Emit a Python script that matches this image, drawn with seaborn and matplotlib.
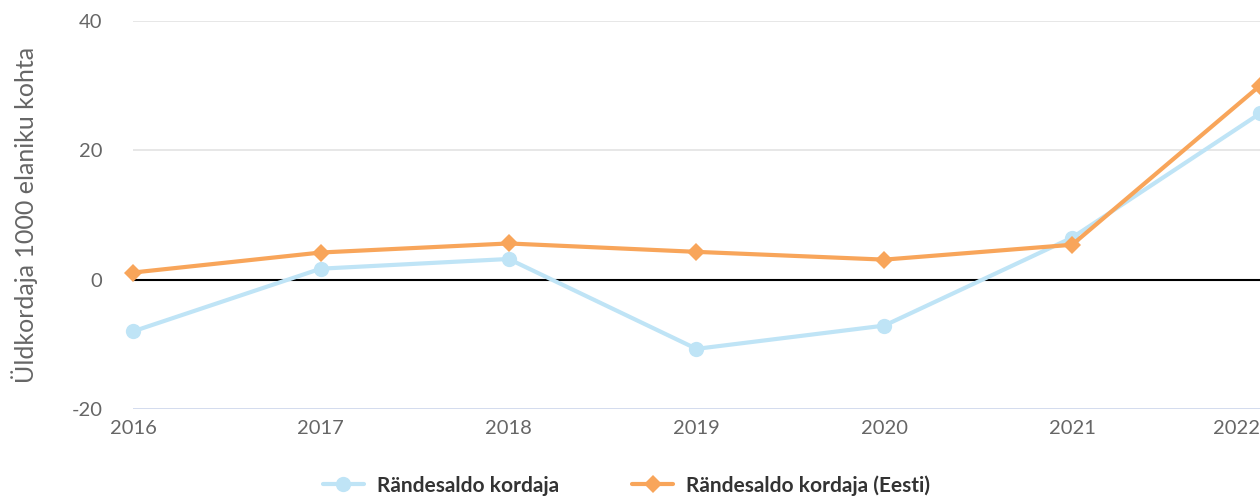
import pandas as pd
import numpy as np
import matplotlib.pyplot as plt
import seaborn as sns

# Andmed
years = [2016, 2017, 2018, 2019, 2020, 2021, 2022]
rande_kordaja = [-8.0, 1.7, 3.2, -10.7, -7.1, 6.5, 25.7]
rande_kordaja_eesti = [1.1, 4.2, 5.6, 4.3, 3.1, 5.4, 30.0]
series_names = ['Rändesaldo kordaja', 'Rändesaldo kordaja (Eesti)']
y_ticks = [-20, 0, 20, 40]

df = pd.DataFrame({
    'aasta': years * 2,
    'kordaja': rande_kordaja + rande_kordaja_eesti,
    'seeria': [series_names[0]] * len(years) + [series_names[1]] * len(years),
})

sns.set_style('white')
plt.rcParams['font.family'] = ['Lato', 'DejaVu Sans']
plt.rcParams['axes.unicode_minus'] = False

fig = plt.figure(figsize=(12.6, 4.97), dpi=100)
ax = fig.add_axes([133 / 1260, 1 - 409 / 497, 1 - 133 / 1260, (409 - 21) / 497])

colors = {series_names[0]: '#bfe4f6', series_names[1]: '#f8a55a'}
markers = {series_names[0]: 'o', series_names[1]: 'D'}
sizes = {series_names[0]: 11, series_names[1]: 9}

for name in series_names:
    sub = df[df['seeria'] == name]
    sns.lineplot(data=sub, x='aasta', y='kordaja', ax=ax, color=colors[name],
                 marker=markers[name], markersize=sizes[name], markeredgewidth=0,
                 linewidth=3, label=name, legend=False, clip_on=False)

ax.set_xlim(2016, 2022)
ax.set_ylim(-20, 40)
ax.set_yticks(y_ticks)
ax.set_xticks(years)
ax.set_xticklabels([str(y) for y in years])
ax.get_xticklabels()[-1].set_horizontalalignment('right')

for t in [20, 40]:
    ax.axhline(t, color='#e3e3e3', linewidth=1.2, zorder=0)
ax.axhline(-20, color='#ccd6eb', linewidth=1.2, zorder=0)
ax.axhline(0, color='black', linewidth=1.5, zorder=1)

for s in ax.spines.values():
    s.set_visible(False)

ax.tick_params(axis='both', length=0, labelsize=14.5, labelcolor='#666666')
ax.tick_params(axis='y', pad=22)
ax.tick_params(axis='x', pad=8)
ax.set_xlabel('')
ax.set_ylabel('Üldkordaja 1000 elaniku kohta', fontsize=18, color='#666666', labelpad=24)

handles, labels = ax.get_legend_handles_labels()
fig.legend(handles, labels, loc='lower center', ncol=2, frameon=False,
           bbox_to_anchor=(0.497, -0.035), prop={'size': 15, 'weight': 'bold'},
           labelcolor='#333333', handlelength=2, columnspacing=3.5, handletextpad=0.6)

plt.savefig('out.png', dpi=100)
